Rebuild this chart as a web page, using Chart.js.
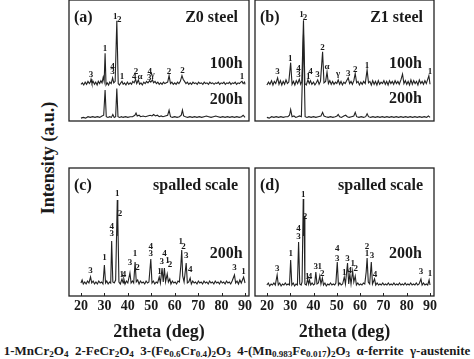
<!DOCTYPE html>
<html>
<head>
<meta charset="utf-8">
<script src="https://cdn.jsdelivr.net/npm/chart.js@4.4.1/dist/chart.umd.min.js"></script>
<style>
  body { margin: 0; background: #fff; }
  #fig { position: relative; width: 474px; height: 359px; overflow: hidden;
         font-family: "Liberation Serif", "Times New Roman", serif; font-weight: bold; color: #1a1a1a; }
  #fig canvas { position: absolute; left: 0; top: 0; }
  #ytitle { position: absolute; left: 48px; top: 158px; transform: translate(-50%, -50%) rotate(-90deg);
            font-size: 18px; white-space: nowrap; }
  #legend { position: absolute; left: 0; width: 474px; top: 343px; line-height: 16px;
            text-align: center; font-size: 13px; white-space: pre; }
  sub { font-size: 70%; vertical-align: -0.25em; line-height: 0; }
</style>
</head>
<body>
<div id="fig">
  <div id="ytitle">Intensity (a.u.)</div>
  <div id="legend">1-MnCr<sub>2</sub>O<sub>4</sub>  2-FeCr<sub>2</sub>O<sub>4</sub>  3-(Fe<sub>0.6</sub>Cr<sub>0.4</sub>)<sub>2</sub>O<sub>3</sub>  4-(Mn<sub>0.983</sub>Fe<sub>0.017</sub>)<sub>2</sub>O<sub>3</sub>  α-ferrite  γ-austenite</div>
</div>
<script>
// x axis tick labels (2theta, deg)
const xTicks = [20, 30, 40, 50, 60, 70, 80, 90];

// patterns: [2theta, intensity a.u.]  (100h curves already stacked above 200h)
const z0_100h = [[20,51],[20.6,53],[21.2,50],[21.8,54],[22.4,51],[23,55],[23.6,52],[24.0,54],[24.3,58],[24.7,52],[25.2,55],[25.8,51],[26.3,54],[26.9,50],[27.4,55],[28,52],[28.5,56],[29,53],[29.5,61],[29.9,55],[30.3,94],[30.7,50],[31.2,53],[31.8,50],[32.3,54],[32.9,52],[33.5,60],[34,53],[34.6,55],[35.3,139],[35.9,52],[36.4,50],[37,53],[37.5,55],[38,51],[38.6,53],[39.2,50],[39.8,54],[40.4,51],[41,53],[41.6,51],[42.1,55],[42.7,53],[43.3,58],[43.8,52],[44.5,57],[45,51],[45.6,53],[46.2,50],[46.8,54],[47.4,52],[48,55],[48.6,53],[49.3,56],[49.8,54],[50.5,57],[51,53],[51.6,55],[52.2,52],[52.8,54],[53.4,51],[54,53],[54.6,51],[55.2,54],[55.8,52],[56.4,53],[57,54],[57.6,63],[58.2,52],[58.8,54],[59.4,51],[60,53],[60.6,51],[61.2,54],[61.8,52],[62.4,55],[63.1,63],[63.6,58],[64.2,55],[64.8,52],[65.4,54],[66,51],[66.6,53],[67.2,51],[67.8,54],[68.4,52],[69,53],[69.6,51],[70.2,54],[70.8,52],[71.4,53],[72,51],[72.6,54],[73.2,52],[73.8,53],[74.4,51],[75,54],[75.6,52],[76.2,53],[76.8,51],[77.4,53],[78,52],[78.6,54],[79.2,51],[79.8,53],[80.4,52],[81,54],[81.6,51],[82.2,53],[82.8,52],[83.4,54],[84,51],[84.6,53],[85.2,52],[85.8,54],[86.4,51],[87,53],[87.6,52],[88.2,54],[88.7,55],[89.2,52],[89.8,54],[90,51]];
const z0_200h = [[20,4],[21,5],[22,4],[23,6],[24,5],[25,6],[26,5],[27,6],[28,5],[29,7],[29.7,8],[30.3,43],[30.8,6],[31.5,5],[32.3,6],[33,5],[33.6,9],[34.2,5],[34.8,6],[35.3,45],[35.8,6],[36.5,5],[37.3,6],[38,5],[39,6],[40,5],[41,6],[42,6],[43,8],[43.5,11],[44,7],[44.8,8],[45.5,6],[46.5,7],[47.5,6],[48.5,7],[49.5,8],[50.3,7],[51,9],[51.8,7],[52.6,8],[53.4,6],[54.2,7],[55,6],[56,7],[57,8],[57.6,15],[58.2,6],[59,5],[60,6],[61,5],[62,6],[62.8,8],[63.3,15],[63.8,7],[64.6,6],[65.5,5],[66.5,6],[67.5,5],[68.5,6],[69.5,5],[70.5,6],[71.5,5],[72.5,6],[73.5,7],[74.5,6],[75.5,5],[76.5,6],[77.5,7],[78.5,6],[79.5,5],[80.5,6],[81.5,5],[82.5,6],[83.5,5],[84.5,6],[85.5,5],[86.5,6],[87.5,5],[88.5,6],[89.2,8],[90,5]];
const z1_100h = [[20,50],[20.7,54],[21.3,51],[22,56],[22.6,50],[23.2,55],[23.8,52],[24.6,60],[25.2,51],[25.8,56],[26.4,50],[27,55],[27.6,51],[28.2,57],[28.8,52],[29.4,54],[30.2,81],[30.8,51],[31.4,55],[32,50],[32.6,56],[33.2,52],[33.9,58],[34.5,51],[35.0,55],[35.7,140],[36.3,52],[36.9,50],[37.6,57],[38.2,52],[38.7,56],[39.3,51],[40,54],[40.6,50],[41.2,53],[41.8,57],[42.4,51],[43.0,55],[43.9,96],[44.5,53],[45.2,55],[45.8,68],[46.4,52],[47,56],[47.6,51],[48.2,55],[48.8,51],[49.4,54],[50,52],[50.6,57],[51.2,51],[51.8,55],[52.4,50],[53,54],[53.6,52],[54.2,56],[54.9,60],[55.5,52],[56.1,55],[56.7,51],[57.3,56],[57.9,66],[58.5,53],[59.1,55],[59.7,50],[60.3,54],[60.9,51],[61.5,55],[62.2,52],[63.0,71],[63.6,53],[64.2,55],[64.8,50],[65.4,56],[66,51],[66.6,55],[67.2,50],[67.8,56],[68.4,51],[69,54],[69.6,52],[70.2,56],[70.8,51],[71.4,55],[72,50],[72.6,56],[73.2,52],[73.8,55],[74.4,51],[75,56],[75.6,52],[76.2,55],[76.8,51],[77.5,57],[78.2,65],[78.8,52],[79.4,56],[80,51],[80.6,55],[81.2,50],[81.8,57],[82.4,51],[83,56],[83.6,52],[84.2,55],[84.8,50],[85.4,57],[86,52],[86.6,55],[87.2,51],[87.8,56],[88.4,52],[89.5,63],[90,51]];
const z1_200h = [[20,5],[21,4],[22,6],[23,5],[24,6],[25,5],[26,6],[27,5],[28,6],[29,6],[29.7,8],[30.2,16],[30.8,6],[31.6,7],[32.4,5],[33.2,6],[34,7],[34.8,6],[35.7,120],[36.4,6],[37.2,5],[38,6],[39,5],[40,6],[41,5],[42,6],[43.2,7],[43.9,12],[44.5,7],[45.3,6],[46.3,5],[47.3,6],[48.3,5],[49.3,6],[50.1,7],[50.6,9],[51.2,6],[52,5],[53,7],[53.8,8],[54.5,6],[55.3,5],[56.3,6],[57.3,7],[57.9,12],[58.5,6],[59.5,5],[60.5,6],[61.5,5],[62.4,6],[63,10],[63.6,6],[64.5,5],[65.5,6],[66.5,5],[67.5,6],[68.5,5],[69.5,6],[70.5,5],[71.5,6],[72.5,5],[73.5,6],[74.5,5],[75.5,6],[76.5,5],[77.5,6],[78.5,5],[79.5,6],[80.5,5],[81.5,6],[82.5,5],[83.5,6],[84.5,5],[85.5,6],[86.5,5],[87.5,6],[88.5,5],[89.3,7],[90,5]];
const z0_spalled = [[20,13],[20.5,16],[21,12],[21.6,14],[22.2,12],[22.8,15],[23.4,13],[24.1,19],[24.6,13],[25.2,15],[25.8,12],[26.4,14],[27,12],[27.6,15],[28.2,13],[28.8,14],[29.4,12],[30.0,31],[30.5,13],[31,15],[31.6,12],[32.2,14],[32.7,13],[33.1,55],[33.6,14],[34.2,13],[34.8,16],[35.5,96],[35.65,60],[35.8,78],[36.2,14],[36.8,12],[37.5,17],[38,13],[38.3,17],[38.8,12],[39.4,15],[40,13],[40.9,23],[41.4,13],[42,15],[42.5,13],[43.1,34],[43.6,14],[44.2,16],[44.8,12],[45.4,15],[46,13],[46.6,14],[47.2,12],[47.8,15],[48.4,13],[49,14],[49.8,37],[50.3,13],[50.9,15],[51.5,12],[52.1,14],[52.7,13],[53.4,19],[53.9,13],[54.6,28],[55.1,14],[55.6,28],[56.1,14],[56.8,22],[57.3,14],[57.9,17],[58.4,12],[59,15],[59.6,13],[60.2,14],[60.8,12],[61.4,15],[62,14],[62.6,30],[63.0,46],[63.4,20],[64,14],[64.9,33],[65.4,13],[66,14],[66.6,18],[67.1,12],[67.7,15],[68.3,13],[68.9,14],[69.5,12],[70.1,15],[70.7,13],[71.3,14],[71.9,12],[72.5,15],[73.1,13],[73.7,14],[74.3,12],[74.9,15],[75.5,13],[76.1,14],[76.7,12],[77.3,15],[77.9,13],[78.5,14],[79.1,12],[79.7,15],[80.3,13],[80.9,14],[81.5,12],[82.1,15],[82.7,13],[83.3,14],[83.9,12],[84.5,15],[85.5,21],[86,13],[86.6,15],[87.2,12],[87.8,16],[88.4,13],[89.4,19],[90,13]];
const z1_spalled = [[20,11],[20.6,13],[21.2,10],[21.8,12],[22.4,11],[23,13],[23.6,11],[24.4,21],[24.9,11],[25.5,13],[26.1,10],[26.7,12],[27.3,11],[27.9,13],[28.5,11],[29.1,12],[29.7,11],[30.2,36],[30.7,11],[31.3,13],[31.9,10],[32.5,12],[33.1,11],[33.6,54],[34.1,12],[34.7,11],[35.1,14],[35.6,97],[35.8,60],[35.95,80],[36.3,12],[36.9,11],[37.5,17],[37.9,12],[38.3,16],[38.8,11],[39.4,13],[40,11],[40.5,12],[41,24],[41.5,12],[42.1,13],[42.7,20],[43.2,12],[43.8,18],[44.3,11],[44.9,13],[45.5,10],[46.1,12],[46.7,11],[47.3,13],[47.9,11],[48.5,12],[49.1,11],[49.6,13],[50.2,34],[50.7,11],[51.3,13],[51.9,11],[52.5,12],[53.2,19],[53.7,12],[54.6,33],[55.1,12],[55.6,22],[56.1,12],[56.8,25],[57.3,14],[57.9,20],[58.4,11],[59,13],[59.6,11],[60.2,12],[60.8,11],[61.4,13],[62,12],[62.6,24],[63.0,38],[63.5,14],[64.1,12],[64.8,34],[65.3,12],[66.2,17],[66.7,11],[67.3,13],[67.9,11],[68.5,12],[69.1,11],[69.7,13],[70.3,11],[70.9,12],[71.5,11],[72.1,13],[72.7,11],[73.3,12],[73.9,11],[74.5,13],[75.1,11],[75.7,12],[76.3,11],[76.9,13],[77.5,11],[78.1,12],[78.7,11],[79.3,13],[79.9,11],[80.5,12],[81.1,11],[81.7,13],[82.3,11],[82.9,12],[83.5,11],[84.1,13],[84.7,11],[85.3,12],[86.1,17],[86.6,11],[87.2,13],[87.8,11],[88.4,12],[89.0,11],[89.6,16],[90,11]];

// phase marks above the peaks: [2theta, intensity, text]
const marks_a = [[24.3,64,'3'],[30.3,101,'1'],[33.5,76,'4'],[33.5,68,'3'],[34.6,145,'1'],[36.3,141,'2'],[37.5,61,'1'],[43.5,69,'2'],[42.7,62,'4'],[45.2,61,'α'],[49.3,68,'4'],[49.1,60,'3'],[50.6,64,'γ'],[57.6,69,'2'],[63.3,70,'2'],[88.7,61,'1']];
const marks_b = [[24.6,69,'3'],[30.0,86,'1'],[33.6,73,'4'],[33.6,65,'3'],[34.9,147,'1'],[36.4,144,'2'],[37.7,62,'1'],[38.7,69,'4'],[41.7,64,'3'],[43.9,102,'2'],[45.8,75,'α'],[50.6,66,'γ'],[54.9,66,'3'],[57.9,71,'2'],[63.0,77,'1'],[90.0,69,'1']];
const marks_c = [[24.1,25,'3'],[30.0,38,'1'],[33.1,69,'4'],[33.1,62,'3'],[35.5,102,'1'],[36.7,82,'2'],[37.4,21,'1'],[38.4,21,'4'],[40.9,33,'3'],[43.1,42,'1'],[44.1,28,'2'],[49.8,49,'4'],[49.8,42,'3'],[53.5,24,'1'],[54.5,34,'3'],[55.6,42,'4'],[56.9,35,'1'],[58.0,31,'2'],[62.6,54,'1'],[63.7,49,'2'],[64.9,40,'3'],[66.6,26,'4'],[85.5,28,'3'],[89.4,24,'1']];
const marks_d = [[24.4,27,'3'],[30.2,42,'1'],[33.6,67,'4'],[33.6,59,'3'],[35.6,101,'1'],[36.3,79,'2'],[37.3,19,'1'],[38.5,19,'4'],[41.0,29,'3'],[42.7,29,'1'],[43.8,22,'2'],[50.2,47,'4'],[50.2,37,'3'],[53.2,23,'1'],[54.6,37,'3'],[55.6,25,'4'],[56.8,32,'1'],[58.1,27,'2'],[63.0,49,'2'],[62.9,42,'1'],[65.1,40,'3'],[66.4,21,'4'],[86.1,24,'3'],[90.0,22,'1']];

// aging time notes: [2theta (right edge), intensity, text]
const notes_a = [[89, 79, '100h'], [89, 29, '200h']];
const notes_b = [[86.5, 79, '100h'], [86.5, 31, '200h']];
const notes_c = [[89, 42, '200h']];
const notes_d = [[86.5, 42, '200h']];

const FONT = '"Liberation Serif", "Times New Roman", serif';
const INK = '#1a1a1a';

// frame, inner ticks, peak marks, panel texts
const panelDeco = {
  id: 'panelDeco',
  afterDatasetsDraw(chart, args, o) {
    const ctx = chart.ctx, a = chart.chartArea;
    const xs = chart.scales.x, ys = chart.scales.y;
    ctx.save();
    ctx.strokeStyle = '#222';
    ctx.lineWidth = 1.3;
    ctx.strokeRect(a.left, a.top, a.right - a.left, a.bottom - a.top);
    if (o.innerTicks) {
      ctx.lineWidth = 1;
      xTicks.forEach(v => {
        const x = Math.round(xs.getPixelForValue(v)) + 0.5;
        ctx.beginPath(); ctx.moveTo(x, a.bottom); ctx.lineTo(x, a.bottom - 3); ctx.stroke();
      });
    }
    ctx.fillStyle = INK;
    ctx.textAlign = 'center';
    ctx.textBaseline = 'middle';
    ctx.font = 'bold 9px ' + FONT;
    o.marks.forEach(([t, v, s]) => ctx.fillText(s, xs.getPixelForValue(t), ys.getPixelForValue(v)));
    ctx.font = 'bold 16px ' + FONT;
    ctx.textAlign = 'left';
    ctx.fillText(o.tag, a.left + 5, a.top + 18);
    ctx.textAlign = 'right';
    ctx.fillText(o.title, a.right - 11, a.top + 18);
    o.notes.forEach(([t, v, s]) => ctx.fillText(s, xs.getPixelForValue(t), ys.getPixelForValue(v)));
    ctx.restore();
  }
};

function lineSet(pairs) {
  return {
    data: pairs.map(p => ({ x: p[0], y: p[1] })),
    borderColor: '#222',
    borderWidth: 1.1,
    pointRadius: 0,
    tension: 0
  };
}

function makePanel(sets, box, ymax, bottomAxis, deco) {
  const cv = document.createElement('canvas');
  cv.width = 474; cv.height = 359;
  document.getElementById('fig').appendChild(cv);
  new Chart(cv, {
    type: 'line',
    data: { datasets: sets.map(lineSet) },
    options: {
      responsive: false,
      animation: false,
      layout: { padding: { left: box[0], top: box[1], right: 474 - box[2], bottom: 359 - box[3] } },
      plugins: { legend: { display: false }, tooltip: { enabled: false }, panelDeco: deco },
      scales: {
        x: {
          type: 'linear', min: 14.9, max: 91.7, display: bottomAxis,
          grid: { display: false, drawTicks: false },
          border: { display: false },
          afterBuildTicks: s => { s.ticks = xTicks.map(v => ({ value: v })); },
          afterFit: s => { s.height = 47; },
          ticks: { font: { family: FONT, size: 14, weight: 'bold' }, color: INK, padding: 2, maxRotation: 0, autoSkip: false },
          title: { display: true, text: '2theta (deg)', color: INK, padding: { top: 0, bottom: 0 },
                   font: { family: FONT, size: 18, weight: 'bold' } }
        },
        y: { type: 'linear', min: 0, max: ymax, display: false }
      }
    },
    plugins: [panelDeco]
  });
}

// chart area boxes [left, top, right, bottom]; the bottom panels reserve 47px below for the axis
makePanel([z0_100h, z0_200h], [69, 0, 249, 168], 168, false,
  { marks: marks_a, notes: notes_a, tag: '(a)', title: 'Z0 steel', innerTicks: false });
makePanel([z1_100h, z1_200h], [255, 0, 434, 168], 168, false,
  { marks: marks_b, notes: notes_b, tag: '(b)', title: 'Z1 steel', innerTicks: false });
makePanel([z0_spalled], [69, 168, 249, 343], 128, true,
  { marks: marks_c, notes: notes_c, tag: '(c)', title: 'spalled scale', innerTicks: true });
makePanel([z1_spalled], [255, 168, 434, 343], 128, true,
  { marks: marks_d, notes: notes_d, tag: '(d)', title: 'spalled scale', innerTicks: true });
</script>
</body>
</html>
